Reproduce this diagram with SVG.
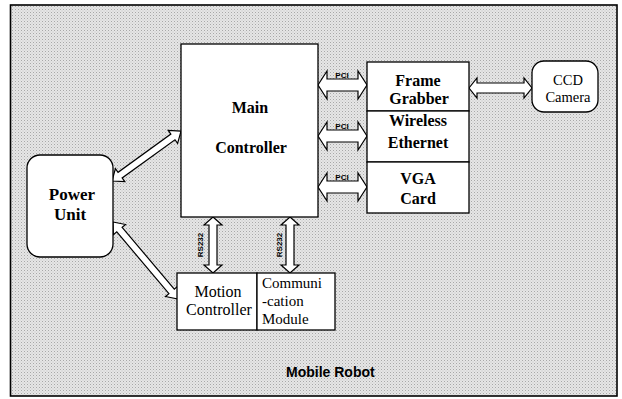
<svg xmlns="http://www.w3.org/2000/svg" width="622" height="399" viewBox="0 0 622 399">
<defs>
<pattern id="dots" width="3" height="3" patternUnits="userSpaceOnUse">
<rect width="3" height="3" fill="#e6e6e6"/>
<rect x="0" y="0" width="1" height="1" fill="#a8a8a8"/>
<rect x="1.5" y="1.5" width="1" height="1" fill="#c4c4c4"/>
</pattern>
<style>
.box{fill:#fff;stroke:#000;stroke-width:1.3}
.arr{fill:#fff;stroke:#000;stroke-width:1.2;stroke-linejoin:miter}
.tb{font-family:"Liberation Serif","Times New Roman",serif;font-weight:bold;font-size:16px;fill:#000;text-anchor:middle}
.tr{font-family:"Liberation Serif","Times New Roman",serif;font-size:16.5px;fill:#000}
.lab{font-family:"Liberation Sans",Arial,sans-serif;font-weight:bold;font-size:8px;fill:#000;text-anchor:middle}
</style>
</defs>
<rect x="0" y="0" width="622" height="399" fill="#fff"/>
<rect id="frame" x="10.5" y="5" width="606.5" height="391" fill="url(#dots)" stroke="#000" stroke-width="1.6"/>

<g id="connectors">
<path class="arr" transform="translate(112,181) rotate(-35.9)" d="M0,0 L10,-8 L10,-3.5 L75.2,-3.5 L75.2,-8 L85.2,0 L75.2,8 L75.2,3.5 L10,3.5 L10,8 Z"/>
<path class="arr" transform="translate(113,222) rotate(49.8)" d="M0,0 L10,-8 L10,-3.5 L90.8,-3.5 L90.8,-8 L100.8,0 L90.8,8 L90.8,3.5 L10,3.5 L10,8 Z"/>
<path class="arr" transform="translate(213,217) rotate(90)" d="M0,0 L8,-9 L8,-4 L48,-4 L48,-9 L56,0 L48,9 L48,4 L8,4 L8,9 Z"/>
<path class="arr" transform="translate(290,217) rotate(90)" d="M0,0 L8,-9 L8,-4 L48,-4 L48,-9 L56,0 L48,9 L48,4 L8,4 L8,9 Z"/>
<path class="arr" transform="translate(318,85)" d="M0,0 L9,-14 L9,-6 L40,-6 L40,-14 L49,0 L40,14 L40,6 L9,6 L9,14 Z"/>
<path class="arr" transform="translate(318,136)" d="M0,0 L9,-14 L9,-6 L40,-6 L40,-14 L49,0 L40,14 L40,6 L9,6 L9,14 Z"/>
<path class="arr" transform="translate(318,187)" d="M0,0 L9,-14 L9,-6 L40,-6 L40,-14 L49,0 L40,14 L40,6 L9,6 L9,14 Z"/>
<path class="arr" transform="translate(469,88)" d="M0,0 L8,-10 L8,-5 L55,-5 L55,-10 L63,0 L55,10 L55,5 L8,5 L8,10 Z"/>
<text class="lab" x="342" y="78">PCI</text>
<text class="lab" x="342" y="129">PCI</text>
<text class="lab" x="342" y="180">PCI</text>
<text class="lab" transform="translate(203,245) rotate(-90)">RS232</text>
<text class="lab" transform="translate(282,245) rotate(-90)">RS232</text>
</g>

<g id="main">
<rect class="box" x="181" y="44" width="137" height="173"/>
<text class="tb" x="250" y="113">Main</text>
<text class="tb" x="251" y="153">Controller</text>
</g>

<g id="frame-grabber">
<rect class="box" x="367" y="62" width="102" height="49"/>
<text class="tb" x="418" y="86">Frame</text>
<text class="tb" x="419" y="104">Grabber</text>
</g>
<g id="wireless">
<rect class="box" x="367" y="111" width="102" height="51"/>
<text class="tb" x="418" y="126">Wireless</text>
<text class="tb" x="418" y="148">Ethernet</text>
</g>
<g id="vga">
<rect class="box" x="367" y="162" width="102" height="51"/>
<text class="tb" x="418" y="184">VGA</text>
<text class="tb" x="418" y="204">Card</text>
</g>

<g id="ccd">
<rect class="box" x="532" y="61" width="66" height="51" rx="12"/>
<text class="tr" x="568" y="85" style="font-size:14.5px;text-anchor:middle">CCD</text>
<text class="tr" x="568" y="102" style="font-size:14.5px;text-anchor:middle">Camera</text>
</g>

<g id="power">
<rect class="box" x="27" y="155" width="86" height="102" rx="13"/>
<text class="tb" x="72" y="200" style="font-size:17px">Power</text>
<text class="tb" x="70" y="220" style="font-size:17px">Unit</text>
</g>

<g id="motion">
<rect class="box" x="177" y="273" width="80" height="57"/>
<text class="tr" x="218" y="297" style="text-anchor:middle;font-size:16px">Motion</text>
<text class="tr" x="219" y="315" style="text-anchor:middle;font-size:16px">Controller</text>
</g>

<g id="comm">
<rect class="box" x="257" y="273" width="78" height="57"/>
<text class="tr" x="262" y="288" style="font-size:15px">Communi</text>
<text class="tr" x="262" y="306" style="font-size:15px">-cation</text>
<text class="tr" x="262" y="324" style="font-size:15px">Module</text>
</g>

<text x="286" y="377" style="font-family:'Liberation Sans',Arial,sans-serif;font-weight:bold;font-size:14px;fill:#000">Mobile Robot</text>
</svg>
